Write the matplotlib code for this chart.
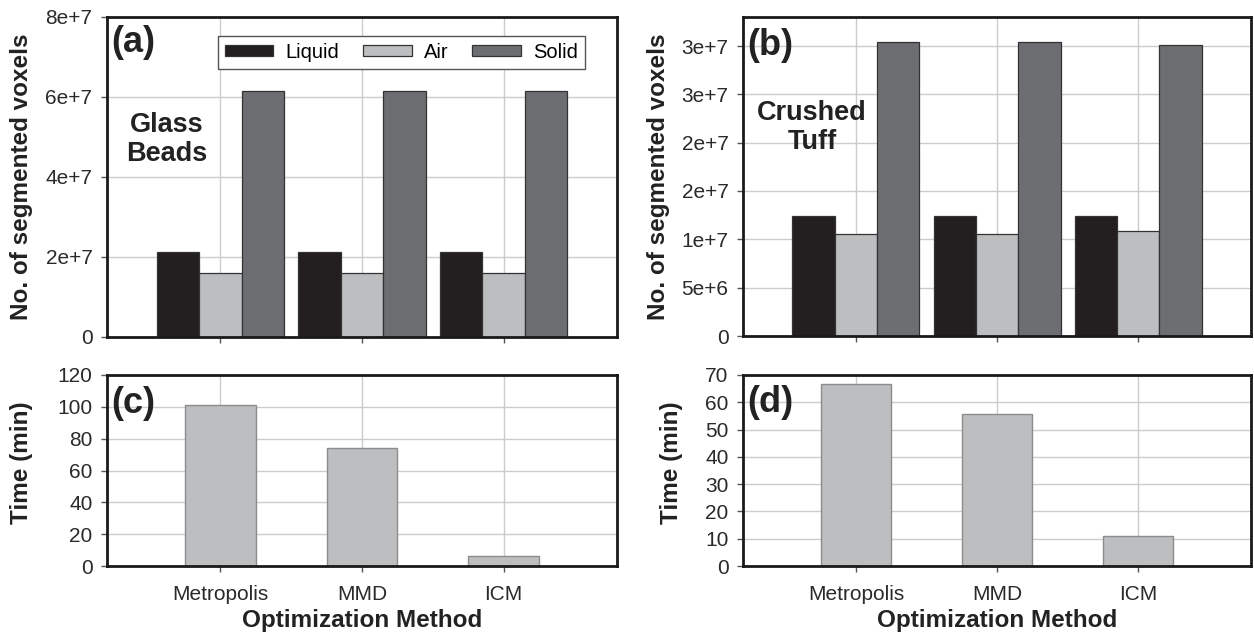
import numpy as np
import matplotlib
matplotlib.use("Agg")
import matplotlib.pyplot as plt

plt.rcParams['font.family'] = ['Liberation Sans', 'DejaVu Sans']

methods = ['Metropolis', 'MMD', 'ICM']
phases = ['Liquid', 'Air', 'Solid']
phase_colors = ['#231f20', '#bcbec0', '#6d6e71']

# voxel counts per phase, one value per method
glass_liquid = [2.13e7, 2.13e7, 2.13e7]
glass_air = [1.60e7, 1.60e7, 1.60e7]
glass_solid = [6.16e7, 6.16e7, 6.16e7]
tuff_liquid = [1.24e7, 1.24e7, 1.24e7]
tuff_air = [1.06e7, 1.055e7, 1.09e7]
tuff_solid = [3.04e7, 3.04e7, 3.01e7]

# run time (min)
glass_time = [101, 74.3, 6.5]
tuff_time = [66.7, 55.7, 11.0]

glass_yticks = [0, 2e7, 4e7, 6e7, 8e7]
glass_ylabels = ['0', '2e+7', '4e+7', '6e+7', '8e+7']
tuff_yticks = [0, 5e6, 1e7, 1.5e7, 2e7, 2.5e7, 3e7]
tuff_ylabels = ['0', '5e+6', '1e+7', '2e+7', '2e+7', '3e+7', '3e+7']

W, H = 1254, 637
fig = plt.figure(figsize=(W / 100, H / 100), dpi=100)

def box(l, r, t, b):
    return [l / W, (H - b) / H, (r - l) / W, (b - t) / H]

ax_a = fig.add_axes(box(107, 617, 17, 337))
ax_b = fig.add_axes(box(743, 1251, 17, 336))
ax_c = fig.add_axes(box(107, 617, 375, 566))
ax_d = fig.add_axes(box(743, 1251, 375, 566))

x = np.arange(len(methods))

def style(ax):
    ax.set_axisbelow(True)
    ax.grid(True, color='#cccccc', lw=1)
    for s in ax.spines.values():
        s.set_linewidth(2.0)
        s.set_color('#1a1a1a')
    ax.set_xlim(-0.8, 2.8)
    ax.set_xticks(x)
    ax.tick_params(direction='out', length=4.5, width=1, color='#555555',
                   labelsize=15, labelcolor='#2a2a2a', pad=6)

def voxel_panel(ax, series, yticks, ylabels, ymax, tag, tag_y, name, name_xy):
    w = 0.3
    for i, (vals, c, lab) in enumerate(zip(series, phase_colors, phases)):
        ax.bar(x + (i - 1) * w, vals, w, color=c, edgecolor='#333333', lw=0.9, label=lab)
    style(ax)
    ax.set_ylim(0, ymax)
    ax.set_yticks(yticks)
    ax.set_yticklabels(ylabels)
    ax.set_xticklabels([])
    ax.set_ylabel('No. of segmented voxels', fontsize=17.5, fontweight='bold', color='#222222')
    ax.text(0.008, tag_y, tag, transform=ax.transAxes, fontsize=26, fontweight='bold',
            ha='left', va='center', color='#222222')
    ax.text(name_xy[0], name_xy[1], name, transform=ax.transAxes, fontsize=19.5,
            fontweight='bold', ha='center', va='center', color='#222222', linespacing=1.15)

def time_panel(ax, vals, ymax, step, tag, tag_y):
    ax.bar(x, vals, 0.5, color='#bcbec0', edgecolor='#8c8c8c', lw=1)
    style(ax)
    ax.set_ylim(0, ymax)
    ax.set_yticks(np.arange(0, ymax + 1, step))
    ax.set_xticklabels(methods)
    ax.tick_params(axis='x', pad=9)
    ax.set_ylabel('Time (min)', fontsize=17.5, fontweight='bold', color='#222222')
    ax.set_xlabel('Optimization Method', fontsize=17.5, fontweight='bold', color='#222222')
    ax.xaxis.set_label_coords(0.5, -0.225)
    ax.text(0.008, tag_y, tag, transform=ax.transAxes, fontsize=26, fontweight='bold',
            ha='left', va='center', color='#222222')

voxel_panel(ax_a, [glass_liquid, glass_air, glass_solid], glass_yticks, glass_ylabels,
            8e7, '(a)', 0.92, 'Glass\nBeads', (0.117, 0.616))
voxel_panel(ax_b, [tuff_liquid, tuff_air, tuff_solid], tuff_yticks, tuff_ylabels,
            3.3e7, '(b)', 0.912, 'Crushed\nTuff', (0.136, 0.655))
time_panel(ax_c, glass_time, 120, 20, '(c)', 0.853)
time_panel(ax_d, tuff_time, 70, 10, '(d)', 0.858)

ax_a.yaxis.set_label_coords(-0.145, 0.5)
ax_b.yaxis.set_label_coords(-0.144, 0.5)
ax_c.yaxis.set_label_coords(-0.145, 0.54)
ax_d.yaxis.set_label_coords(-0.118, 0.54)

leg = ax_a.legend(loc='center', bbox_to_anchor=(0.577, 0.89), ncol=3, fontsize=14.5,
                  frameon=True, fancybox=False, framealpha=1, edgecolor='#555555',
                  handlelength=2.4, handleheight=0.5, handletextpad=0.6,
                  columnspacing=1.2, borderpad=0.35, borderaxespad=0)
leg.get_frame().set_linewidth(1.0)

fig.savefig('out.png', dpi=100)
